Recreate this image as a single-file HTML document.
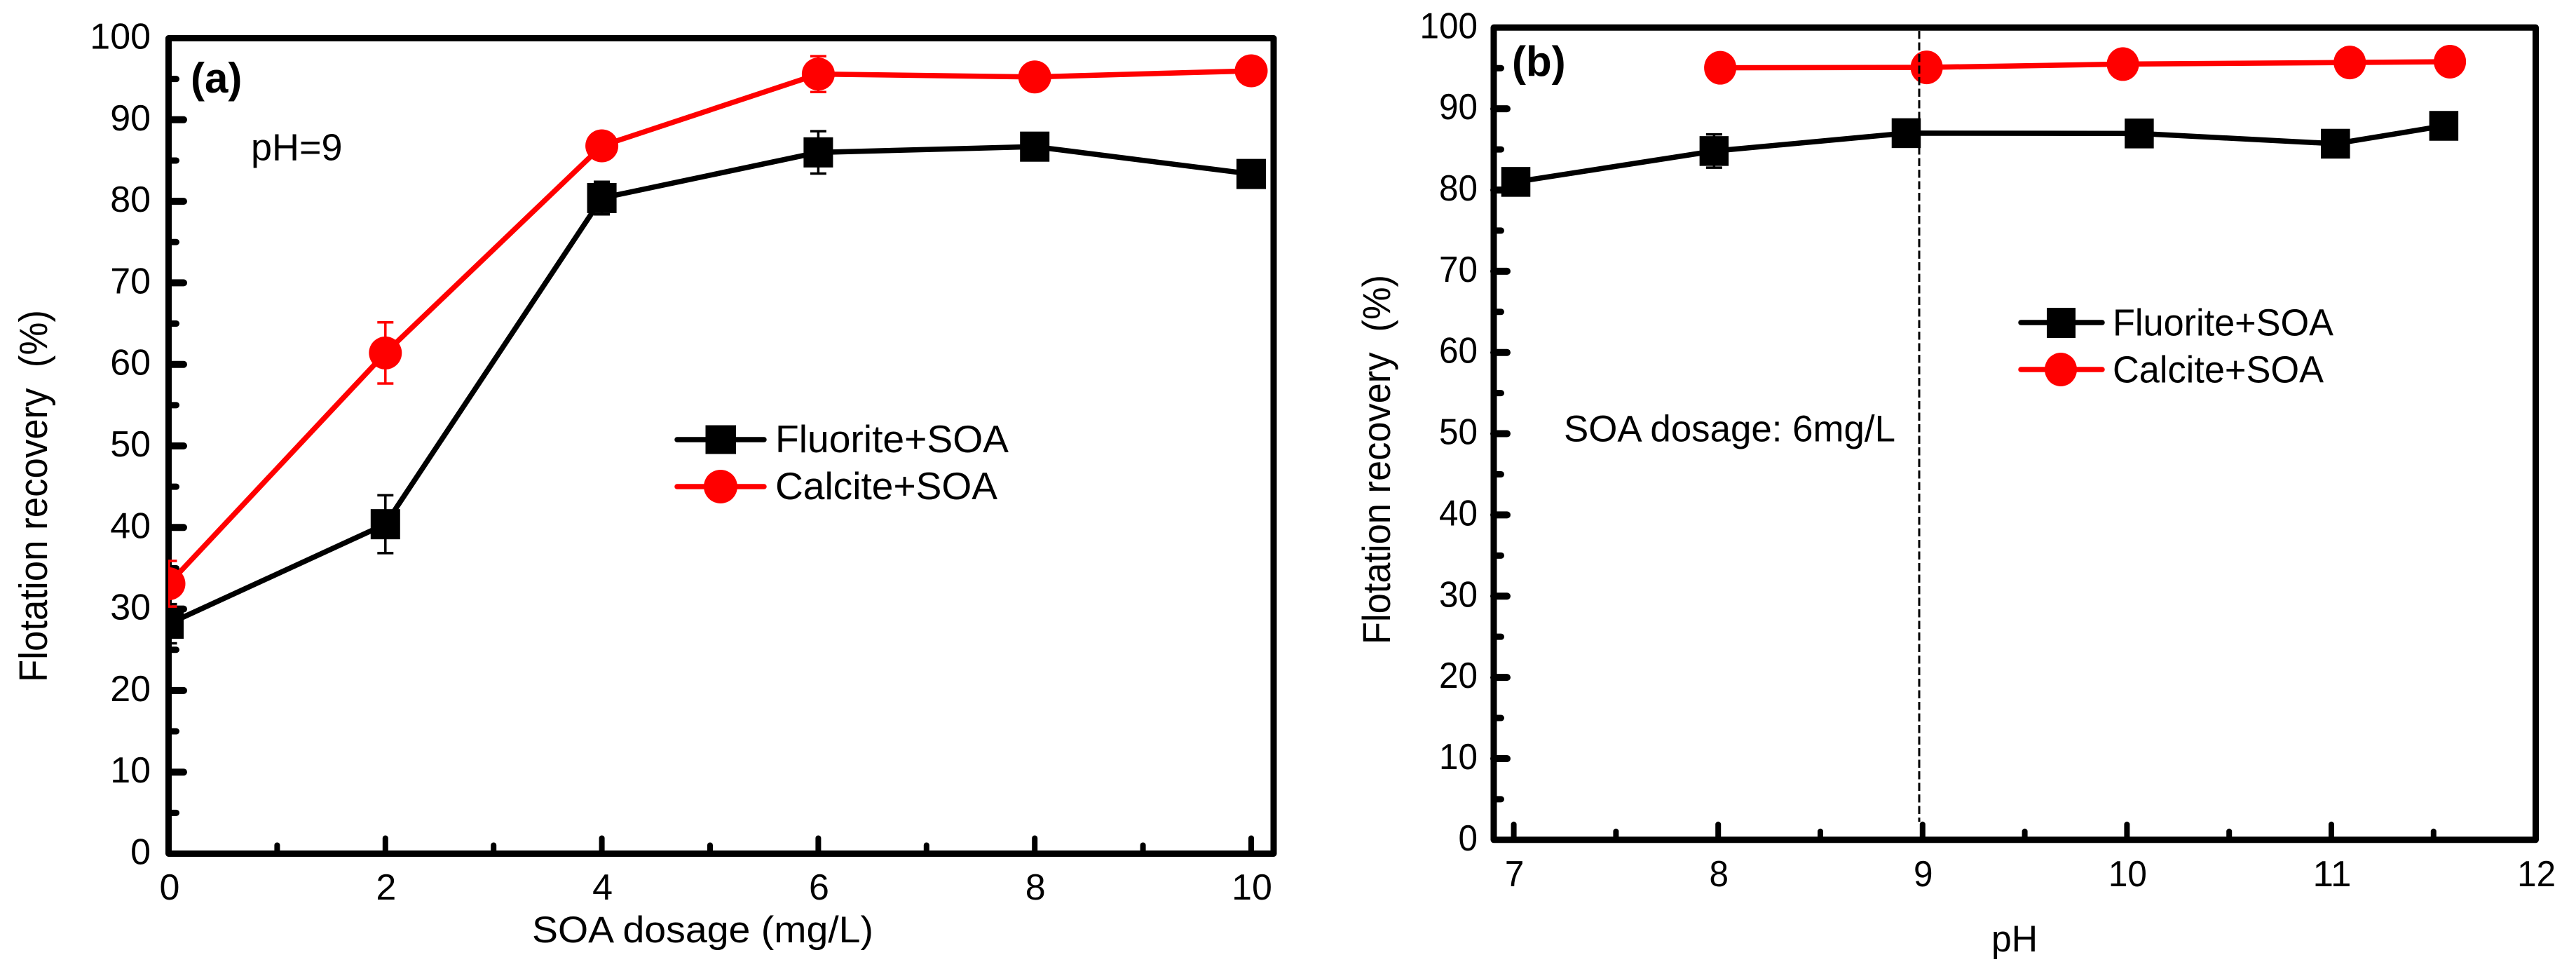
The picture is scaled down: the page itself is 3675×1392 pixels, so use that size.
<!DOCTYPE html>
<html lang="en">
<head>
<meta charset="utf-8">
<title>Flotation recovery charts</title>
<style>
html,body{margin:0;padding:0;background:#fff;}
svg{display:block;}
text{font-family:"Liberation Sans",Arial,sans-serif;fill:#000;}
</style>
</head>
<body>
<svg id="figure" xmlns="http://www.w3.org/2000/svg" width="3675" height="1392" viewBox="0 0 3675 1392">
  <rect x="0" y="0" width="3675" height="1392" fill="#fff"/>
  <defs>
    <clipPath id="clip-a"><rect x="240" y="50" width="1581" height="1172"/></clipPath>
  </defs>

  <g id="panel-a">
    <rect x="240.5" y="54.5" width="1576.5" height="1163" fill="none" stroke="#000" stroke-width="9" stroke-linejoin="round"/>
    <g id="a-ticks"></g>
    <g id="a-marks" clip-path="url(#clip-a)"></g>
    <text x="272" y="132" font-size="60" font-weight="bold">(a)</text>
    <text x="358" y="228.3" font-size="54" textLength="130.5" lengthAdjust="spacingAndGlyphs">pH=9</text>
    <text x="759" y="1344" font-size="53" textLength="487" lengthAdjust="spacingAndGlyphs">SOA dosage (mg/L)</text>
    <text transform="translate(67,973) rotate(-90)" font-size="57" textLength="531" lengthAdjust="spacingAndGlyphs" xml:space="preserve">Flotation recovery  (%)</text>
    <g>
      <g>
        <line x1="966" y1="627" x2="1090" y2="627" stroke="#000" stroke-width="7.5" stroke-linecap="round"/>
        <rect x="1006.5" y="606.5" width="43.5" height="41"/>
        <text x="1106" y="645" font-size="55" textLength="333" lengthAdjust="spacingAndGlyphs">Fluorite+SOA</text>
      </g>
      <g>
        <line x1="966" y1="694" x2="1090" y2="694" stroke="#f00" stroke-width="7.5" stroke-linecap="round"/>
        <ellipse cx="1028" cy="694" rx="24" ry="24" fill="#f00"/>
        <text x="1106" y="712" font-size="55" textLength="317" lengthAdjust="spacingAndGlyphs">Calcite+SOA</text>
      </g>
    </g>
  </g>

  <g id="panel-b">
    <rect x="2131" y="39.3" width="1486.5" height="1158.5" fill="none" stroke="#000" stroke-width="9" stroke-linejoin="round"/>
    <g id="b-ticks"></g>
    <g id="b-marks"></g>
    <line x1="2738" y1="44" x2="2738" y2="1172" stroke="#000" stroke-width="3" stroke-dasharray="11.5 5"/>
    <text x="2157" y="108.5" font-size="60" font-weight="bold">(b)</text>
    <text x="2231" y="629.5" font-size="53" textLength="473" lengthAdjust="spacingAndGlyphs">SOA dosage: 6mg/L</text>
    <text x="2841" y="1357" font-size="53" textLength="66" lengthAdjust="spacingAndGlyphs">pH</text>
    <text transform="translate(1983,919) rotate(-90)" font-size="56" textLength="527" lengthAdjust="spacingAndGlyphs" xml:space="preserve">Flotation recovery  (%)</text>
    <g>
      <g>
        <line x1="2883" y1="460" x2="2999" y2="460" stroke="#000" stroke-width="7.5" stroke-linecap="round"/>
        <rect x="2920" y="439" width="41" height="43"/>
        <text x="3014" y="478.5" font-size="54" textLength="315" lengthAdjust="spacingAndGlyphs">Fluorite+SOA</text>
      </g>
      <g>
        <line x1="2883" y1="527" x2="2999" y2="527" stroke="#f00" stroke-width="7.5" stroke-linecap="round"/>
        <ellipse cx="2940" cy="527" rx="23" ry="24" fill="#f00"/>
        <text x="3014" y="545.5" font-size="54" textLength="301" lengthAdjust="spacingAndGlyphs">Calcite+SOA</text>
      </g>
    </g>
  </g>
</svg>

<script>
// Shared tick labels
var yTickLabels = [0, 10, 20, 30, 40, 50, 60, 70, 80, 90, 100];
var yMinorTicks = [5, 15, 25, 35, 45, 55, 65, 75, 85, 95];

// Panel (a) data
var aXTickLabels = [0, 2, 4, 6, 8, 10];
var aXMinorTicks = [1, 3, 5, 7, 9];
var aDosage = [0, 2, 4, 6, 8, 10];
var aFluorite = [28.2, 40.4, 80.4, 86.0, 86.7, 83.35];
var aFluoriteErr = [2.4, 3.55, 2.0, 2.6, 1.0, 1.0];
var aCalcite = [33.1, 61.4, 86.8, 95.6, 95.25, 96.0];
var aCalciteErr = [2.8, 3.75, 1.2, 2.2, 1.0, 1.0];

// Panel (b) data
var bXTickLabels = [7, 8, 9, 10, 11, 12];
var bXMinorTicks = [7.5, 8.5, 9.5, 10.5, 11.5];
var bFluoritePH = [7.01, 7.98, 8.92, 10.06, 11.02, 11.55];
var bFluorite = [81.0, 84.8, 87.0, 86.96, 85.7, 87.9];
var bFluoriteErr = [1.0, 2.05, 1.0, 1.0, 1.0, 1.0];
var bCalcitePH = [8.01, 9.02, 9.98, 11.09, 11.58];
var bCalcite = [95.05, 95.1, 95.5, 95.7, 95.8];

var SVG_NS = 'http://www.w3.org/2000/svg';

// Axis functions
function aX(v) { return 241 + v * 154.4; }
function aY(v) { return 1217.5 - v * 11.63; }
function bX(v) { return 2159.6 + (v - 7) * 291.6; }
function bY(v) { return 1197.8 - v * 11.585; }

function make(tag, parent) {
  var el = document.createElementNS(SVG_NS, tag);
  parent.appendChild(el);
  return el;
}

function drawTick(parent, x1, y1, x2, y2, width, name) {
  var t = make('line', parent);
  t.setAttribute('x1', x1);
  t.setAttribute('y1', y1);
  t.setAttribute('x2', x2);
  t.setAttribute('y2', y2);
  t.setAttribute('stroke', '#000');
  t.setAttribute('stroke-width', width);
  t.setAttribute('stroke-linecap', 'round');
  
  
}

function drawLabel(parent, x, y, label, anchor, digitWidth, name) {
  var t = make('text', parent);
  t.setAttribute('x', x);
  t.setAttribute('y', y);
  t.setAttribute('font-size', '52');
  t.setAttribute('text-anchor', anchor);
  t.setAttribute('textLength', String(label).length * digitWidth);
  t.setAttribute('lengthAdjust', 'spacingAndGlyphs');
  
  
  t.textContent = label;
}

function drawTicks(parent, xFn, yFn, left, bottom, xMajor, xMinor, yLabelRight, xLabelBase, digitWidth, majorLen) {
  yTickLabels.forEach(function (v) {
    if (v > 0 && v < 100) {
      drawTick(parent, left, yFn(v), left + majorLen, yFn(v), 10, 'y-major-tick');
    }
    drawLabel(parent, yLabelRight, yFn(v) + 15, v, 'end', digitWidth, 'y-tick-label');
  });
  yMinorTicks.forEach(function (v) {
    drawTick(parent, left, yFn(v), left + 10.5, yFn(v), 9, 'y-minor-tick');
  });
  xMajor.forEach(function (v) {
    if (v !== 0 && v !== 12) {
      drawTick(parent, xFn(v), bottom, xFn(v), bottom - 22, 8, 'x-major-tick');
    }
    drawLabel(parent, xFn(v) + 1, xLabelBase, v, 'middle', digitWidth, 'x-tick-label');
  });
  xMinor.forEach(function (v) {
    drawTick(parent, xFn(v), bottom, xFn(v), bottom - 12, 8, 'x-minor-tick');
  });
}

function drawLine(parent, xs, ys, xFn, yFn, color, name) {
  var pts = xs.map(function (x, i) { return xFn(x) + ',' + yFn(ys[i]); }).join(' ');
  var p = make('polyline', parent);
  p.setAttribute('points', pts);
  p.setAttribute('fill', 'none');
  p.setAttribute('stroke', color);
  p.setAttribute('stroke-width', '7.5');
  p.setAttribute('stroke-linejoin', 'round');
  
  
}

function drawErrors(parent, xs, ys, errs, xFn, yFn, color, name) {
  xs.forEach(function (x, i) {
    var px = xFn(x), hi = yFn(ys[i] + errs[i]), lo = yFn(ys[i] - errs[i]);
    var d = 'M' + px + ' ' + hi + 'V' + lo +
            'M' + (px - 11.5) + ' ' + hi + 'H' + (px + 11.5) +
            'M' + (px - 11.5) + ' ' + lo + 'H' + (px + 11.5);
    var e = make('path', parent);
    e.setAttribute('d', d);
    e.setAttribute('fill', 'none');
    e.setAttribute('stroke', color);
    e.setAttribute('stroke-width', '3.5');
    
    
  });
}

function drawSquares(parent, xs, ys, xFn, yFn, w, h, name) {
  xs.forEach(function (x, i) {
    var r = make('rect', parent);
    r.setAttribute('x', xFn(x) - w / 2);
    r.setAttribute('y', yFn(ys[i]) - h / 2);
    r.setAttribute('width', w);
    r.setAttribute('height', h);
    r.setAttribute('fill', '#000');
    
    
  });
}

function drawCircles(parent, xs, ys, xFn, yFn, rx, ry, name) {
  xs.forEach(function (x, i) {
    var c = make('ellipse', parent);
    c.setAttribute('cx', xFn(x));
    c.setAttribute('cy', yFn(ys[i]));
    c.setAttribute('rx', rx);
    c.setAttribute('ry', ry);
    c.setAttribute('fill', '#f00');
    
    
  });
}

// Panel (a)
var aTicks = document.getElementById('a-ticks');
var aMarks = document.getElementById('a-marks');
drawTicks(aTicks, aX, aY, 241, 1217.5, aXTickLabels, aXMinorTicks, 215, 1283, 28.9, 21);
drawLine(aMarks, aDosage, aFluorite, aX, aY, '#000', 'fluorite-line');
drawErrors(aMarks, aDosage, aFluorite, aFluoriteErr, aX, aY, '#000', 'fluorite-error-bar');
drawSquares(aMarks, aDosage, aFluorite, aX, aY, 42, 43, 'fluorite-point');
drawLine(aMarks, aDosage, aCalcite, aX, aY, '#f00', 'calcite-line');
drawErrors(aMarks, aDosage, aCalcite, aCalciteErr, aX, aY, '#f00', 'calcite-error-bar');
drawCircles(aMarks, aDosage, aCalcite, aX, aY, 23.5, 23.5, 'calcite-point');

// Panel (b)
var bTicks = document.getElementById('b-ticks');
var bMarks = document.getElementById('b-marks');
drawTicks(bTicks, bX, bY, 2131, 1197.8, bXTickLabels, bXMinorTicks, 2108, 1264, 27.5, 19);
drawLine(bMarks, bFluoritePH, bFluorite, bX, bY, '#000', 'fluorite-line-b');
drawErrors(bMarks, bFluoritePH, bFluorite, bFluoriteErr, bX, bY, '#000', 'fluorite-error-bar-b');
drawSquares(bMarks, bFluoritePH, bFluorite, bX, bY, 41.5, 42.5, 'fluorite-point-b');
drawLine(bMarks, bCalcitePH, bCalcite, bX, bY, '#f00', 'calcite-line-b');
drawCircles(bMarks, bCalcitePH, bCalcite, bX, bY, 23, 24, 'calcite-point-b');
</script>
</body>
</html>
